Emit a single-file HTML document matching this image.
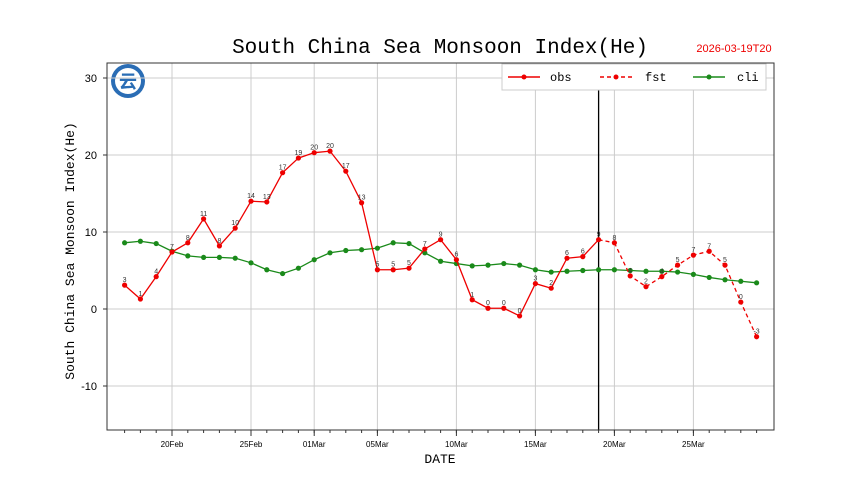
<!DOCTYPE html>
<html><head><meta charset="utf-8"><style>
body{margin:0;background:#fff;}
svg{display:block;font-family:"Liberation Sans","Noto Sans CJK SC",sans-serif;}
</style></head><body>
<svg id="chart" width="860" height="483">
<text x="440" y="53" text-anchor="middle" font-family="Liberation Mono, monospace" font-size="21">South China Sea Monsoon Index(He)</text>
<text x="734" y="52" text-anchor="middle" font-family="Liberation Sans, sans-serif" font-size="11" fill="#e00">2026-03-19T20</text>
<g>
<circle cx="128" cy="81" r="17" fill="#2a6db5"/><circle cx="128" cy="81" r="13" fill="#fff"/>
<text x="128" y="88" text-anchor="middle" font-size="18" fill="#2a6db5" font-weight="bold">云</text>
</g>
<text transform="translate(74,251) rotate(-90)" text-anchor="middle" font-family="Liberation Mono, monospace" font-size="13">South China Sea Monsoon Index(He)</text>
<text x="440" y="463" text-anchor="middle" font-family="Liberation Mono, monospace" font-size="13">DATE</text>
<g id="grid"></g><g id="axes"></g><g id="series"></g>
<rect x="107" y="63" width="667" height="367" fill="none" stroke="#333" stroke-width="1"/>
<g>
<rect x="502" y="64" width="264" height="26" fill="#fff" stroke="#ccc"/>
<line x1="508" y1="77" x2="540" y2="77" stroke="#e00" stroke-width="1.5"/><circle cx="524" cy="77" r="2.5" fill="#e00"/>
<text x="550" y="81" font-family="Liberation Mono, monospace" font-size="12">obs</text>
<line x1="600" y1="77" x2="632" y2="77" stroke="#e00" stroke-width="1.5" stroke-dasharray="4,3"/><circle cx="616" cy="77" r="2.5" fill="#e00"/>
<text x="645" y="81" font-family="Liberation Mono, monospace" font-size="12">fst</text>
<line x1="693" y1="77" x2="725" y2="77" stroke="#1a8a1a" stroke-width="1.5"/><circle cx="709" cy="77" r="2.5" fill="#1a8a1a"/>
<text x="737" y="81" font-family="Liberation Mono, monospace" font-size="12">cli</text>
</g>
</svg>
<script>
const obsValues=[3.1,1.3,4.2,7.4,8.6,11.7,8.2,10.5,14.0,13.9,17.7,19.6,20.3,20.5,17.9,13.8,5.1,5.1,5.3,7.8,9.0,6.4,1.2,0.1,0.1,-0.9,3.3,2.7,6.6,6.8,9.0];
const fstValues=[9.0,8.6,4.3,2.9,4.2,5.7,7.0,7.5,5.7,0.9,-3.6];
const fstStart=30;
const cliValues=[8.6,8.8,8.5,7.5,6.9,6.7,6.7,6.6,6.0,5.1,4.6,5.3,6.4,7.3,7.6,7.7,7.9,8.6,8.5,7.3,6.2,5.9,5.6,5.7,5.9,5.7,5.1,4.8,4.9,5.0,5.1,5.1,5.0,4.9,4.9,4.8,4.5,4.1,3.8,3.6,3.4];
const yTicks=[-10,0,10,20,30];
const xTickDays=[3,8,12,16,21,26,31,36];
const xTickLabels=["20Feb","25Feb","01Mar","05Mar","10Mar","15Mar","20Mar","25Mar"];
const nowDay=30;
const NS="http://www.w3.org/2000/svg";
const X=d=>124.6+d*15.8, Y=v=>309-v*7.7;
function mk(tag,attrs,parent){const e=document.createElementNS(NS,tag);for(const k in attrs)e.setAttribute(k,attrs[k]);parent.appendChild(e);return e;}
const grid=document.getElementById('grid'),axes=document.getElementById('axes'),ser=document.getElementById('series');
yTicks.forEach(v=>{
 const l=mk('line',{x1:107,x2:774,y1:Y(v),y2:Y(v),stroke:'#ccc'},grid);
 
 
 const t=mk('text',{x:97,y:Y(v)+4,'text-anchor':'end','font-size':11},axes);t.textContent=v;
 
 
 mk('line',{x1:103,x2:107,y1:Y(v),y2:Y(v),stroke:'#333'},axes);
});
xTickDays.forEach((d,i)=>{
 const l=mk('line',{x1:X(d),x2:X(d),y1:63,y2:430,stroke:'#ccc'},grid);
 
 
 mk('line',{x1:X(d),x2:X(d),y1:430,y2:436,stroke:'#333'},axes);
 const t=mk('text',{x:X(d),y:447,'text-anchor':'middle','font-size':8},axes);t.textContent=xTickLabels[i];
 
 
});
for(let d=0;d<cliValues.length;d++)mk('line',{x1:X(d),x2:X(d),y1:430,y2:433,stroke:'#333'},axes);
const vl=mk('line',{x1:X(nowDay),x2:X(nowDay),y1:63,y2:430,stroke:'#000','stroke-width':1.3},ser);


function line(vals,off,color,dash,name,labels){
 const pts=vals.map((v,i)=>X(i+off)+','+Y(v)).join(' ');
 const p=mk('polyline',{points:pts,fill:'none',stroke:color,'stroke-width':1.3},ser);
 if(dash)p.setAttribute('stroke-dasharray',dash);
 
 
 vals.forEach((v,i)=>{
  const c=mk('circle',{cx:X(i+off),cy:Y(v),r:2.6,fill:color},ser);
  
  
  if(labels){const t=mk('text',{x:X(i+off),y:Y(v)-3,'text-anchor':'middle','font-size':7,fill:'#333'},ser);t.textContent=Math.trunc(v);
  
  }
 });
}
line(cliValues,0,'#1a8a1a',null,'cli',false);
line(obsValues,0,'#e00',null,'obs',true);
line(fstValues.slice(1),fstStart+1,'#e00','4,3','fst',true);
const fc=mk('polyline',{points:X(fstStart)+','+Y(fstValues[0])+' '+X(fstStart+1)+','+Y(fstValues[1]),fill:'none',stroke:'#e00','stroke-width':1.3,'stroke-dasharray':'4,3'},ser);


</script>
</body></html>
